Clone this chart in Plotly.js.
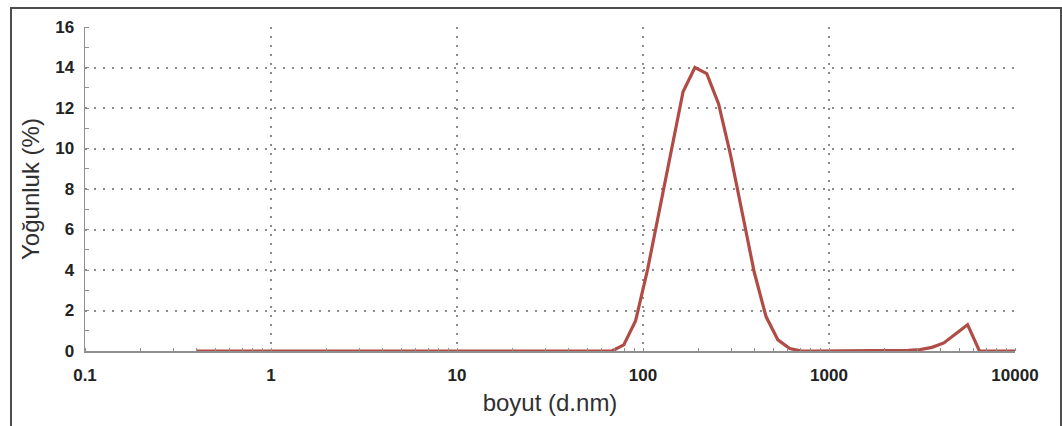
<!DOCTYPE html>
<html>
<head>
<meta charset="utf-8">
<script src="https://cdn.plot.ly/plotly-3.0.1.min.js"></script>
<style>
  html, body { margin: 0; padding: 0; background: #ffffff; }
  #wrap { position: relative; width: 1062px; height: 426px; overflow: hidden; }
  #chart { position: absolute; left: 0; top: 0; width: 1062px; height: 426px; }
  #frame {
    position: absolute; left: 10px; top: 7px; width: 1048px; height: 440px;
    border: 2px solid #4d4d4d; pointer-events: none;
  }
</style>
</head>
<body>
<div id="wrap">
  <div id="chart"></div>
  <div id="frame"></div>
</div>
<script>
// Size classes (d.nm) of the distribution
const sizes = [
  0.4, 0.4632, 0.5365, 0.6213, 0.7195, 0.8332, 0.9649, 1.117, 1.294, 1.499,
  1.736, 2.010, 2.328, 2.696, 3.122, 3.615, 4.187, 4.849, 5.615, 6.503,
  7.531, 8.721, 10.10, 11.70, 13.54, 15.69, 18.17, 21.04, 24.36, 28.21,
  32.67, 37.84, 43.82, 50.75, 58.77, 68.06, 78.82, 91.28, 105.7, 122.4,
  141.8, 164.2, 190.1, 220.2, 255.0, 295.3, 342.0, 396.1, 458.7, 531.2,
  615.1, 712.4, 825.0, 955.4, 1106, 1281, 1484, 1718, 1990, 2305,
  2669, 3091, 3580, 4145, 4801, 5560, 6439, 7456, 8635, 10000
];

// Intensity (%) in each size class
const intensity = [
  0, 0, 0, 0, 0, 0, 0, 0, 0, 0,
  0, 0, 0, 0, 0, 0, 0, 0, 0, 0,
  0, 0, 0, 0, 0, 0, 0, 0, 0, 0,
  0, 0, 0, 0, 0, 0, 0.3, 1.5, 4.0, 6.9,
  9.9, 12.8, 14.0, 13.7, 12.2, 9.7, 6.8, 3.9, 1.7, 0.55,
  0.12, 0, 0, 0, 0, 0, 0, 0, 0, 0.01,
  0.03, 0.07, 0.18, 0.4, 0.85, 1.3, 0, 0, 0, 0
];

const xTickVals = [0.1, 1, 10, 100, 1000, 10000];
const xTickText = ['0.1', '1', '10', '100', '1000', '10000'];
const yTickVals = [0, 2, 4, 6, 8, 10, 12, 14, 16];

const gridDots = '2px,7px';
const tickFont = { family: 'Liberation Sans, Arial, sans-serif', size: 17, color: '#222222', weight: 'bold' };
const titleFont = { family: 'Liberation Sans, Arial, sans-serif', size: 24, color: '#303030' };

const trace = {
  x: sizes,
  y: intensity,
  type: 'scatter',
  mode: 'lines',
  line: { color: '#b04c45', width: 3.2, shape: 'linear' },
  hoverinfo: 'x+y'
};

const layout = {
  width: 1062,
  height: 426,
  margin: { l: 85, r: 47, t: 27, b: 75 },
  paper_bgcolor: '#ffffff',
  plot_bgcolor: '#ffffff',
  showlegend: false,
  xaxis: {
    type: 'log',
    range: [-1, 4],
    tickvals: xTickVals,
    ticktext: xTickText,
    tickfont: tickFont,
    ticks: '',
    ticklabelstandoff: 8,
    showgrid: true,
    gridcolor: '#8c8c8c',
    gridwidth: 2,
    griddash: gridDots,
    showline: true,
    linecolor: '#8f8f8f',
    linewidth: 1.5,
    zeroline: false,
    minor: { dtick: 'D1', ticks: 'inside', ticklen: 3, tickcolor: '#8f8f8f', showgrid: false },
    title: { text: 'boyut (d.nm)', font: titleFont, standoff: 10 }
  },
  yaxis: {
    range: [0, 16],
    tickvals: yTickVals,
    tickfont: tickFont,
    ticks: '',
    ticklabelstandoff: 6,
    showgrid: true,
    gridcolor: '#8c8c8c',
    gridwidth: 2,
    griddash: gridDots,
    showline: true,
    linecolor: '#8f8f8f',
    linewidth: 1.5,
    zeroline: false,
    minor: { dtick: 1, ticks: 'inside', ticklen: 4, tickcolor: '#8f8f8f', showgrid: false },
    title: { text: 'Yoğunluk (%)', font: titleFont, standoff: 9 }
  }
};

Plotly.newPlot('chart', [trace], layout, { displayModeBar: false, staticPlot: true });
</script>
</body>
</html>
